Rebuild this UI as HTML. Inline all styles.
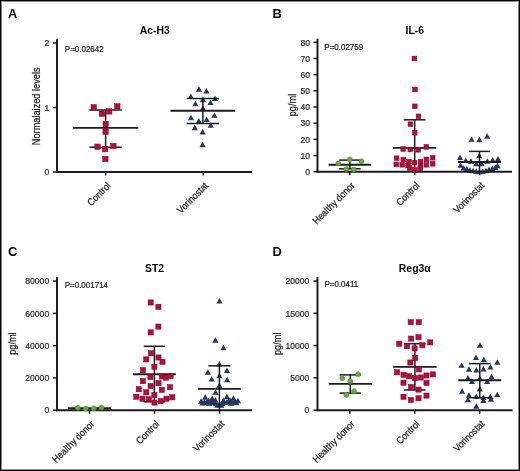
<!DOCTYPE html>
<html><head><meta charset="utf-8"><style>
html,body{margin:0;padding:0;background:#fff;}
body{width:520px;height:471px;overflow:hidden;position:relative;}
.frame{position:absolute;left:0;top:0;width:518px;height:469px;border:1px solid #000;box-shadow:inset 0 0 0 1px #8a8a8a;}
svg{position:absolute;left:0;top:0;font-family:"Liberation Sans", sans-serif;filter:blur(0.3px);}
</style></head><body>
<div class="frame"></div>
<svg width="520" height="471" viewBox="0 0 520 471">
<path d="M199.00 86.25L202.10 91.75L195.90 91.75Z" fill="#24375f"/>
<path d="M206.40 88.05L209.50 93.55L203.30 93.55Z" fill="#24375f"/>
<path d="M190.80 93.45L193.90 98.95L187.70 98.95Z" fill="#24375f"/>
<path d="M202.90 96.45L206.00 101.95L199.80 101.95Z" fill="#24375f"/>
<path d="M215.00 95.45L218.10 100.95L211.90 100.95Z" fill="#24375f"/>
<path d="M195.40 100.75L198.50 106.25L192.30 106.25Z" fill="#24375f"/>
<path d="M210.50 99.55L213.60 105.05L207.40 105.05Z" fill="#24375f"/>
<path d="M202.90 105.35L206.00 110.85L199.80 110.85Z" fill="#24375f"/>
<path d="M214.40 112.15L217.50 117.65L211.30 117.65Z" fill="#24375f"/>
<path d="M191.00 114.65L194.10 120.15L187.90 120.15Z" fill="#24375f"/>
<path d="M198.80 118.05L201.90 123.55L195.70 123.55Z" fill="#24375f"/>
<path d="M206.60 116.55L209.70 122.05L203.50 122.05Z" fill="#24375f"/>
<path d="M194.80 124.65L197.90 130.15L191.70 130.15Z" fill="#24375f"/>
<path d="M210.80 122.15L213.90 127.65L207.70 127.65Z" fill="#24375f"/>
<path d="M202.60 129.05L205.70 134.55L199.50 134.55Z" fill="#24375f"/>
<path d="M202.60 141.85L205.70 147.35L199.50 147.35Z" fill="#24375f"/>
<path d="M471.60 136.25L474.70 141.75L468.50 141.75Z" fill="#24375f"/>
<path d="M479.40 136.85L482.50 142.35L476.30 142.35Z" fill="#24375f"/>
<path d="M487.10 133.35L490.20 138.85L484.00 138.85Z" fill="#24375f"/>
<path d="M479.30 152.85L482.40 158.35L476.20 158.35Z" fill="#24375f"/>
<path d="M460.00 154.45L463.10 159.95L456.90 159.95Z" fill="#24375f"/>
<path d="M498.00 156.05L501.10 161.55L494.90 161.55Z" fill="#24375f"/>
<path d="M465.80 157.55L468.90 163.05L462.70 163.05Z" fill="#24375f"/>
<path d="M471.00 158.15L474.10 163.65L467.90 163.65Z" fill="#24375f"/>
<path d="M487.40 158.35L490.50 163.85L484.30 163.85Z" fill="#24375f"/>
<path d="M492.70 157.05L495.80 162.55L489.60 162.55Z" fill="#24375f"/>
<path d="M476.30 160.75L479.40 166.25L473.20 166.25Z" fill="#24375f"/>
<path d="M481.60 160.75L484.70 166.25L478.50 166.25Z" fill="#24375f"/>
<path d="M460.50 162.35L463.60 167.85L457.40 167.85Z" fill="#24375f"/>
<path d="M497.50 162.85L500.60 168.35L494.40 168.35Z" fill="#24375f"/>
<path d="M463.60 165.05L466.70 170.55L460.50 170.55Z" fill="#24375f"/>
<path d="M466.80 166.05L469.90 171.55L463.70 171.55Z" fill="#24375f"/>
<path d="M470.00 167.15L473.10 172.65L466.90 172.65Z" fill="#24375f"/>
<path d="M473.20 167.65L476.30 173.15L470.10 173.15Z" fill="#24375f"/>
<path d="M476.30 168.25L479.40 173.75L473.20 173.75Z" fill="#24375f"/>
<path d="M479.50 168.65L482.60 174.15L476.40 174.15Z" fill="#24375f"/>
<path d="M482.70 168.25L485.80 173.75L479.60 173.75Z" fill="#24375f"/>
<path d="M485.90 167.65L489.00 173.15L482.80 173.15Z" fill="#24375f"/>
<path d="M489.00 166.55L492.10 172.05L485.90 172.05Z" fill="#24375f"/>
<path d="M492.20 165.55L495.30 171.05L489.10 171.05Z" fill="#24375f"/>
<path d="M495.40 164.45L498.50 169.95L492.30 169.95Z" fill="#24375f"/>
<path d="M219.50 298.05L222.60 303.55L216.40 303.55Z" fill="#24375f"/>
<path d="M215.40 337.35L218.50 342.85L212.30 342.85Z" fill="#24375f"/>
<path d="M223.40 344.75L226.50 350.25L220.30 350.25Z" fill="#24375f"/>
<path d="M219.40 361.05L222.50 366.55L216.30 366.55Z" fill="#24375f"/>
<path d="M207.90 369.15L211.00 374.65L204.80 374.65Z" fill="#24375f"/>
<path d="M227.00 367.45L230.10 372.95L223.90 372.95Z" fill="#24375f"/>
<path d="M219.40 372.65L222.50 378.15L216.30 378.15Z" fill="#24375f"/>
<path d="M211.70 376.05L214.80 381.55L208.60 381.55Z" fill="#24375f"/>
<path d="M227.20 376.65L230.30 382.15L224.10 382.15Z" fill="#24375f"/>
<path d="M219.40 382.45L222.50 387.95L216.30 387.95Z" fill="#24375f"/>
<path d="M215.60 389.35L218.70 394.85L212.50 394.85Z" fill="#24375f"/>
<path d="M205.20 394.25L208.30 399.75L202.10 399.75Z" fill="#24375f"/>
<path d="M212.20 395.55L215.30 401.05L209.10 401.05Z" fill="#24375f"/>
<path d="M215.40 396.95L218.50 402.45L212.30 402.45Z" fill="#24375f"/>
<path d="M226.90 393.75L230.00 399.25L223.80 399.25Z" fill="#24375f"/>
<path d="M233.40 395.15L236.50 400.65L230.30 400.65Z" fill="#24375f"/>
<path d="M238.00 397.85L241.10 403.35L234.90 403.35Z" fill="#24375f"/>
<path d="M201.10 398.35L204.20 403.85L198.00 403.85Z" fill="#24375f"/>
<path d="M223.20 397.45L226.30 402.95L220.10 402.95Z" fill="#24375f"/>
<path d="M208.50 397.75L211.60 403.25L205.40 403.25Z" fill="#24375f"/>
<path d="M204.50 398.75L207.60 404.25L201.40 404.25Z" fill="#24375f"/>
<path d="M230.00 397.25L233.10 402.75L226.90 402.75Z" fill="#24375f"/>
<path d="M235.00 398.75L238.10 404.25L231.90 404.25Z" fill="#24375f"/>
<path d="M212.00 399.25L215.10 404.75L208.90 404.75Z" fill="#24375f"/>
<path d="M227.00 399.25L230.10 404.75L223.90 404.75Z" fill="#24375f"/>
<path d="M216.00 400.75L219.10 406.25L212.90 406.25Z" fill="#24375f"/>
<path d="M222.50 400.75L225.60 406.25L219.40 406.25Z" fill="#24375f"/>
<path d="M209.00 400.25L212.10 405.75L205.90 405.75Z" fill="#24375f"/>
<path d="M231.00 400.25L234.10 405.75L227.90 405.75Z" fill="#24375f"/>
<path d="M219.20 401.45L222.30 406.95L216.10 406.95Z" fill="#24375f"/>
<path d="M217.30 402.25L220.40 407.75L214.20 407.75Z" fill="#24375f"/>
<path d="M221.20 402.25L224.30 407.75L218.10 407.75Z" fill="#24375f"/>
<path d="M206.50 399.55L209.60 405.05L203.40 405.05Z" fill="#24375f"/>
<path d="M210.50 398.55L213.60 404.05L207.40 404.05Z" fill="#24375f"/>
<path d="M214.00 399.85L217.10 405.35L210.90 405.35Z" fill="#24375f"/>
<path d="M224.50 399.05L227.60 404.55L221.40 404.55Z" fill="#24375f"/>
<path d="M228.50 398.25L231.60 403.75L225.40 403.75Z" fill="#24375f"/>
<path d="M233.00 399.55L236.10 405.05L229.90 405.05Z" fill="#24375f"/>
<path d="M236.50 399.85L239.60 405.35L233.40 405.35Z" fill="#24375f"/>
<path d="M202.50 400.05L205.60 405.55L199.40 405.55Z" fill="#24375f"/>
<path d="M480.00 342.35L483.10 347.85L476.90 347.85Z" fill="#24375f"/>
<path d="M476.00 354.55L479.10 360.05L472.90 360.05Z" fill="#24375f"/>
<path d="M483.80 356.75L486.90 362.25L480.70 362.25Z" fill="#24375f"/>
<path d="M497.30 359.15L500.40 364.65L494.20 364.65Z" fill="#24375f"/>
<path d="M461.60 362.25L464.70 367.75L458.50 367.75Z" fill="#24375f"/>
<path d="M490.40 363.95L493.50 369.45L487.30 369.45Z" fill="#24375f"/>
<path d="M469.00 366.25L472.10 371.75L465.90 371.75Z" fill="#24375f"/>
<path d="M476.30 367.05L479.40 372.55L473.20 372.55Z" fill="#24375f"/>
<path d="M483.50 365.95L486.60 371.45L480.40 371.45Z" fill="#24375f"/>
<path d="M467.90 374.95L471.00 380.45L464.80 380.45Z" fill="#24375f"/>
<path d="M471.90 378.45L475.00 383.95L468.80 383.95Z" fill="#24375f"/>
<path d="M479.80 375.55L482.90 381.05L476.70 381.05Z" fill="#24375f"/>
<path d="M487.20 378.45L490.30 383.95L484.10 383.95Z" fill="#24375f"/>
<path d="M491.50 373.75L494.60 379.25L488.40 379.25Z" fill="#24375f"/>
<path d="M479.80 385.95L482.90 391.45L476.70 391.45Z" fill="#24375f"/>
<path d="M462.10 388.25L465.20 393.75L459.00 393.75Z" fill="#24375f"/>
<path d="M469.00 392.25L472.10 397.75L465.90 397.75Z" fill="#24375f"/>
<path d="M476.30 393.45L479.40 398.95L473.20 398.95Z" fill="#24375f"/>
<path d="M483.50 394.55L486.60 400.05L480.40 400.05Z" fill="#24375f"/>
<path d="M490.40 393.45L493.50 398.95L487.30 398.95Z" fill="#24375f"/>
<path d="M497.30 391.65L500.40 397.15L494.20 397.15Z" fill="#24375f"/>
<path d="M467.90 396.85L471.00 402.35L464.80 402.35Z" fill="#24375f"/>
<path d="M483.50 397.45L486.60 402.95L480.40 402.95Z" fill="#24375f"/>
<path d="M491.00 396.25L494.10 401.75L487.90 401.75Z" fill="#24375f"/>
<path d="M476.30 403.25L479.40 408.75L473.20 408.75Z" fill="#24375f"/>
<line x1="57.00" y1="39.20" x2="57.00" y2="173.00" stroke="#1c1c1c" stroke-width="2.0"/>
<line x1="56.20" y1="172.00" x2="252.00" y2="172.00" stroke="#1c1c1c" stroke-width="2.0"/>
<line x1="53.00" y1="172.00" x2="57.00" y2="172.00" stroke="#1c1c1c" stroke-width="1.5"/>
<text x="49.20" y="175.20" font-size="8.6" text-anchor="end" font-weight="normal" fill="#2a2a2a" stroke="#2a2a2a" stroke-width="0.22">0</text>
<line x1="53.00" y1="107.50" x2="57.00" y2="107.50" stroke="#1c1c1c" stroke-width="1.5"/>
<text x="49.20" y="110.70" font-size="8.6" text-anchor="end" font-weight="normal" fill="#2a2a2a" stroke="#2a2a2a" stroke-width="0.22">1</text>
<line x1="53.00" y1="43.00" x2="57.00" y2="43.00" stroke="#1c1c1c" stroke-width="1.5"/>
<text x="49.20" y="46.20" font-size="8.6" text-anchor="end" font-weight="normal" fill="#2a2a2a" stroke="#2a2a2a" stroke-width="0.22">2</text>
<line x1="105.75" y1="172.00" x2="105.75" y2="175.60" stroke="#1c1c1c" stroke-width="1.5"/>
<line x1="203.25" y1="172.00" x2="203.25" y2="175.60" stroke="#1c1c1c" stroke-width="1.5"/>
<text x="8.00" y="18.20" font-size="12.8" text-anchor="start" font-weight="bold" fill="#000">A</text>
<text x="154.75" y="33.60" font-size="10.4" text-anchor="middle" font-weight="bold" fill="#000">Ac-H3</text>
<text x="0.00" y="0.00" font-size="9.2" text-anchor="start" font-weight="normal" fill="#1a1a1a" stroke="#1a1a1a" stroke-width="0.22" transform="translate(64.80,51.60) scale(0.87,1)">P=0.02642</text>
<text x="0.00" y="0.00" font-size="10.4" text-anchor="middle" font-weight="normal" fill="#1a1a1a" stroke="#1a1a1a" stroke-width="0.22" transform="translate(39.9,106.3) rotate(-90) translate(0.00,0.00) scale(0.885,1)">Normalaized levels</text>
<text x="0.00" y="0.00" font-size="9.9" text-anchor="end" font-weight="normal" fill="#1a1a1a" stroke="#1a1a1a" stroke-width="0.22" transform="translate(111.25,186.40) rotate(-45) translate(0.00,0.00) scale(0.89,1)">Control</text>
<text x="0.00" y="0.00" font-size="9.9" text-anchor="end" font-weight="normal" fill="#1a1a1a" stroke="#1a1a1a" stroke-width="0.22" transform="translate(208.75,186.40) rotate(-45) translate(0.00,0.00) scale(0.89,1)">Vorinostat</text>
<line x1="105.60" y1="110.00" x2="105.60" y2="147.20" stroke="#1c1c1c" stroke-width="1.5"/>
<line x1="89.40" y1="110.00" x2="121.80" y2="110.00" stroke="#1c1c1c" stroke-width="1.5"/>
<line x1="89.40" y1="147.20" x2="121.80" y2="147.20" stroke="#1c1c1c" stroke-width="1.5"/>
<line x1="72.90" y1="127.90" x2="138.30" y2="127.90" stroke="#1c1c1c" stroke-width="1.9"/>
<line x1="202.90" y1="98.40" x2="202.90" y2="123.60" stroke="#1c1c1c" stroke-width="1.5"/>
<line x1="186.70" y1="98.40" x2="219.10" y2="98.40" stroke="#1c1c1c" stroke-width="1.5"/>
<line x1="186.70" y1="123.60" x2="219.10" y2="123.60" stroke="#1c1c1c" stroke-width="1.5"/>
<line x1="170.50" y1="110.70" x2="235.30" y2="110.70" stroke="#1c1c1c" stroke-width="1.9"/>
<line x1="317.50" y1="38.60" x2="317.50" y2="172.70" stroke="#1c1c1c" stroke-width="2.0"/>
<line x1="316.70" y1="171.70" x2="512.00" y2="171.70" stroke="#1c1c1c" stroke-width="2.0"/>
<line x1="313.50" y1="171.70" x2="317.50" y2="171.70" stroke="#1c1c1c" stroke-width="1.5"/>
<text x="310.00" y="174.90" font-size="8.6" text-anchor="end" font-weight="normal" fill="#2a2a2a" stroke="#2a2a2a" stroke-width="0.22">0</text>
<line x1="313.50" y1="155.52" x2="317.50" y2="155.52" stroke="#1c1c1c" stroke-width="1.5"/>
<text x="310.00" y="158.72" font-size="8.6" text-anchor="end" font-weight="normal" fill="#2a2a2a" stroke="#2a2a2a" stroke-width="0.22">10</text>
<line x1="313.50" y1="139.35" x2="317.50" y2="139.35" stroke="#1c1c1c" stroke-width="1.5"/>
<text x="310.00" y="142.55" font-size="8.6" text-anchor="end" font-weight="normal" fill="#2a2a2a" stroke="#2a2a2a" stroke-width="0.22">20</text>
<line x1="313.50" y1="123.17" x2="317.50" y2="123.17" stroke="#1c1c1c" stroke-width="1.5"/>
<text x="310.00" y="126.38" font-size="8.6" text-anchor="end" font-weight="normal" fill="#2a2a2a" stroke="#2a2a2a" stroke-width="0.22">30</text>
<line x1="313.50" y1="107.00" x2="317.50" y2="107.00" stroke="#1c1c1c" stroke-width="1.5"/>
<text x="310.00" y="110.20" font-size="8.6" text-anchor="end" font-weight="normal" fill="#2a2a2a" stroke="#2a2a2a" stroke-width="0.22">40</text>
<line x1="313.50" y1="90.83" x2="317.50" y2="90.83" stroke="#1c1c1c" stroke-width="1.5"/>
<text x="310.00" y="94.03" font-size="8.6" text-anchor="end" font-weight="normal" fill="#2a2a2a" stroke="#2a2a2a" stroke-width="0.22">50</text>
<line x1="313.50" y1="74.65" x2="317.50" y2="74.65" stroke="#1c1c1c" stroke-width="1.5"/>
<text x="310.00" y="77.85" font-size="8.6" text-anchor="end" font-weight="normal" fill="#2a2a2a" stroke="#2a2a2a" stroke-width="0.22">60</text>
<line x1="313.50" y1="58.48" x2="317.50" y2="58.48" stroke="#1c1c1c" stroke-width="1.5"/>
<text x="310.00" y="61.68" font-size="8.6" text-anchor="end" font-weight="normal" fill="#2a2a2a" stroke="#2a2a2a" stroke-width="0.22">70</text>
<line x1="313.50" y1="42.30" x2="317.50" y2="42.30" stroke="#1c1c1c" stroke-width="1.5"/>
<text x="310.00" y="45.50" font-size="8.6" text-anchor="end" font-weight="normal" fill="#2a2a2a" stroke="#2a2a2a" stroke-width="0.22">80</text>
<line x1="349.90" y1="171.70" x2="349.90" y2="175.30" stroke="#1c1c1c" stroke-width="1.5"/>
<line x1="414.75" y1="171.70" x2="414.75" y2="175.30" stroke="#1c1c1c" stroke-width="1.5"/>
<line x1="479.60" y1="171.70" x2="479.60" y2="175.30" stroke="#1c1c1c" stroke-width="1.5"/>
<text x="272.60" y="18.20" font-size="12.8" text-anchor="start" font-weight="bold" fill="#000">B</text>
<text x="414.75" y="33.70" font-size="10.4" text-anchor="middle" font-weight="bold" fill="#000">IL-6</text>
<text x="0.00" y="0.00" font-size="9.2" text-anchor="start" font-weight="normal" fill="#1a1a1a" stroke="#1a1a1a" stroke-width="0.22" transform="translate(324.30,49.70) scale(0.87,1)">P=0.02759</text>
<text x="0.00" y="0.00" font-size="10.4" text-anchor="middle" font-weight="normal" fill="#1a1a1a" stroke="#1a1a1a" stroke-width="0.22" transform="translate(295.9,105) rotate(-90) translate(0.00,0.00) scale(0.885,1)">pg/ml</text>
<text x="0.00" y="0.00" font-size="9.9" text-anchor="end" font-weight="normal" fill="#1a1a1a" stroke="#1a1a1a" stroke-width="0.22" transform="translate(355.40,186.10) rotate(-45) translate(0.00,0.00) scale(0.89,1)">Healthy donor</text>
<text x="0.00" y="0.00" font-size="9.9" text-anchor="end" font-weight="normal" fill="#1a1a1a" stroke="#1a1a1a" stroke-width="0.22" transform="translate(420.25,186.10) rotate(-45) translate(0.00,0.00) scale(0.89,1)">Control</text>
<text x="0.00" y="0.00" font-size="9.9" text-anchor="end" font-weight="normal" fill="#1a1a1a" stroke="#1a1a1a" stroke-width="0.22" transform="translate(485.10,186.10) rotate(-45) translate(0.00,0.00) scale(0.89,1)">Vorinostat</text>
<line x1="349.90" y1="160.10" x2="349.90" y2="168.80" stroke="#1c1c1c" stroke-width="1.5"/>
<line x1="339.20" y1="160.10" x2="360.60" y2="160.10" stroke="#1c1c1c" stroke-width="1.5"/>
<line x1="339.20" y1="168.80" x2="360.60" y2="168.80" stroke="#1c1c1c" stroke-width="1.5"/>
<line x1="328.50" y1="164.70" x2="371.30" y2="164.70" stroke="#1c1c1c" stroke-width="1.9"/>
<line x1="414.70" y1="119.80" x2="414.70" y2="171.70" stroke="#1c1c1c" stroke-width="1.5"/>
<line x1="404.00" y1="119.80" x2="425.40" y2="119.80" stroke="#1c1c1c" stroke-width="1.5"/>
<line x1="393.10" y1="147.90" x2="436.30" y2="147.90" stroke="#1c1c1c" stroke-width="1.9"/>
<line x1="479.50" y1="151.40" x2="479.50" y2="171.70" stroke="#1c1c1c" stroke-width="1.5"/>
<line x1="468.80" y1="151.40" x2="490.20" y2="151.40" stroke="#1c1c1c" stroke-width="1.5"/>
<line x1="458.00" y1="162.00" x2="501.00" y2="162.00" stroke="#1c1c1c" stroke-width="1.9"/>
<line x1="57.00" y1="277.20" x2="57.00" y2="411.20" stroke="#1c1c1c" stroke-width="2.0"/>
<line x1="56.20" y1="410.20" x2="252.00" y2="410.20" stroke="#1c1c1c" stroke-width="2.0"/>
<line x1="53.00" y1="410.20" x2="57.00" y2="410.20" stroke="#1c1c1c" stroke-width="1.5"/>
<text x="49.20" y="413.40" font-size="8.6" text-anchor="end" font-weight="normal" fill="#2a2a2a" stroke="#2a2a2a" stroke-width="0.22">0</text>
<line x1="53.00" y1="377.93" x2="57.00" y2="377.93" stroke="#1c1c1c" stroke-width="1.5"/>
<text x="49.20" y="381.12" font-size="8.6" text-anchor="end" font-weight="normal" fill="#2a2a2a" stroke="#2a2a2a" stroke-width="0.22">20000</text>
<line x1="53.00" y1="345.65" x2="57.00" y2="345.65" stroke="#1c1c1c" stroke-width="1.5"/>
<text x="49.20" y="348.85" font-size="8.6" text-anchor="end" font-weight="normal" fill="#2a2a2a" stroke="#2a2a2a" stroke-width="0.22">40000</text>
<line x1="53.00" y1="313.38" x2="57.00" y2="313.38" stroke="#1c1c1c" stroke-width="1.5"/>
<text x="49.20" y="316.57" font-size="8.6" text-anchor="end" font-weight="normal" fill="#2a2a2a" stroke="#2a2a2a" stroke-width="0.22">60000</text>
<line x1="53.00" y1="281.10" x2="57.00" y2="281.10" stroke="#1c1c1c" stroke-width="1.5"/>
<text x="49.20" y="284.30" font-size="8.6" text-anchor="end" font-weight="normal" fill="#2a2a2a" stroke="#2a2a2a" stroke-width="0.22">80000</text>
<line x1="89.50" y1="410.20" x2="89.50" y2="413.80" stroke="#1c1c1c" stroke-width="1.5"/>
<line x1="154.50" y1="410.20" x2="154.50" y2="413.80" stroke="#1c1c1c" stroke-width="1.5"/>
<line x1="219.50" y1="410.20" x2="219.50" y2="413.80" stroke="#1c1c1c" stroke-width="1.5"/>
<text x="8.00" y="255.80" font-size="12.8" text-anchor="start" font-weight="bold" fill="#000">C</text>
<text x="154.50" y="271.80" font-size="10.4" text-anchor="middle" font-weight="bold" fill="#000">ST2</text>
<text x="0.00" y="0.00" font-size="9.2" text-anchor="start" font-weight="normal" fill="#1a1a1a" stroke="#1a1a1a" stroke-width="0.22" transform="translate(64.70,287.60) scale(0.87,1)">P=0.001714</text>
<text x="0.00" y="0.00" font-size="10.4" text-anchor="middle" font-weight="normal" fill="#1a1a1a" stroke="#1a1a1a" stroke-width="0.22" transform="translate(15.6,343.6) rotate(-90) translate(0.00,0.00) scale(0.885,1)">pg/ml</text>
<text x="0.00" y="0.00" font-size="9.9" text-anchor="end" font-weight="normal" fill="#1a1a1a" stroke="#1a1a1a" stroke-width="0.22" transform="translate(95.00,424.60) rotate(-45) translate(0.00,0.00) scale(0.89,1)">Healthy donor</text>
<text x="0.00" y="0.00" font-size="9.9" text-anchor="end" font-weight="normal" fill="#1a1a1a" stroke="#1a1a1a" stroke-width="0.22" transform="translate(160.00,424.60) rotate(-45) translate(0.00,0.00) scale(0.89,1)">Control</text>
<text x="0.00" y="0.00" font-size="9.9" text-anchor="end" font-weight="normal" fill="#1a1a1a" stroke="#1a1a1a" stroke-width="0.22" transform="translate(225.00,424.60) rotate(-45) translate(0.00,0.00) scale(0.89,1)">Vorinostat</text>
<line x1="67.80" y1="408.20" x2="110.90" y2="408.20" stroke="#1c1c1c" stroke-width="2.0"/>
<line x1="154.40" y1="346.30" x2="154.40" y2="401.80" stroke="#1c1c1c" stroke-width="1.5"/>
<line x1="143.70" y1="346.30" x2="165.10" y2="346.30" stroke="#1c1c1c" stroke-width="1.5"/>
<line x1="143.70" y1="401.80" x2="165.10" y2="401.80" stroke="#1c1c1c" stroke-width="1.5"/>
<line x1="133.00" y1="374.20" x2="175.80" y2="374.20" stroke="#1c1c1c" stroke-width="1.9"/>
<line x1="219.40" y1="365.80" x2="219.40" y2="410.20" stroke="#1c1c1c" stroke-width="1.5"/>
<line x1="208.40" y1="365.80" x2="230.40" y2="365.80" stroke="#1c1c1c" stroke-width="1.5"/>
<line x1="198.00" y1="388.90" x2="240.80" y2="388.90" stroke="#1c1c1c" stroke-width="1.9"/>
<line x1="317.50" y1="277.20" x2="317.50" y2="411.20" stroke="#1c1c1c" stroke-width="2.0"/>
<line x1="316.70" y1="410.20" x2="512.50" y2="410.20" stroke="#1c1c1c" stroke-width="2.0"/>
<line x1="313.50" y1="410.20" x2="317.50" y2="410.20" stroke="#1c1c1c" stroke-width="1.5"/>
<text x="309.40" y="413.40" font-size="8.6" text-anchor="end" font-weight="normal" fill="#2a2a2a" stroke="#2a2a2a" stroke-width="0.22">0</text>
<line x1="313.50" y1="377.90" x2="317.50" y2="377.90" stroke="#1c1c1c" stroke-width="1.5"/>
<text x="309.40" y="381.10" font-size="8.6" text-anchor="end" font-weight="normal" fill="#2a2a2a" stroke="#2a2a2a" stroke-width="0.22">5000</text>
<line x1="313.50" y1="345.60" x2="317.50" y2="345.60" stroke="#1c1c1c" stroke-width="1.5"/>
<text x="309.40" y="348.80" font-size="8.6" text-anchor="end" font-weight="normal" fill="#2a2a2a" stroke="#2a2a2a" stroke-width="0.22">10000</text>
<line x1="313.50" y1="313.30" x2="317.50" y2="313.30" stroke="#1c1c1c" stroke-width="1.5"/>
<text x="309.40" y="316.50" font-size="8.6" text-anchor="end" font-weight="normal" fill="#2a2a2a" stroke="#2a2a2a" stroke-width="0.22">15000</text>
<line x1="313.50" y1="281.00" x2="317.50" y2="281.00" stroke="#1c1c1c" stroke-width="1.5"/>
<text x="309.40" y="284.20" font-size="8.6" text-anchor="end" font-weight="normal" fill="#2a2a2a" stroke="#2a2a2a" stroke-width="0.22">20000</text>
<line x1="349.90" y1="410.20" x2="349.90" y2="413.80" stroke="#1c1c1c" stroke-width="1.5"/>
<line x1="414.75" y1="410.20" x2="414.75" y2="413.80" stroke="#1c1c1c" stroke-width="1.5"/>
<line x1="479.60" y1="410.20" x2="479.60" y2="413.80" stroke="#1c1c1c" stroke-width="1.5"/>
<text x="272.60" y="255.80" font-size="12.8" text-anchor="start" font-weight="bold" fill="#000">D</text>
<text x="414.75" y="271.80" font-size="10.4" text-anchor="middle" font-weight="bold" fill="#000">Reg3α</text>
<text x="0.00" y="0.00" font-size="9.2" text-anchor="start" font-weight="normal" fill="#1a1a1a" stroke="#1a1a1a" stroke-width="0.22" transform="translate(324.40,287.40) scale(0.87,1)">P=0.0411</text>
<text x="0.00" y="0.00" font-size="10.4" text-anchor="middle" font-weight="normal" fill="#1a1a1a" stroke="#1a1a1a" stroke-width="0.22" transform="translate(280.8,343.8) rotate(-90) translate(0.00,0.00) scale(0.885,1)">pg/ml</text>
<text x="0.00" y="0.00" font-size="9.9" text-anchor="end" font-weight="normal" fill="#1a1a1a" stroke="#1a1a1a" stroke-width="0.22" transform="translate(355.40,424.60) rotate(-45) translate(0.00,0.00) scale(0.89,1)">Healthy donor</text>
<text x="0.00" y="0.00" font-size="9.9" text-anchor="end" font-weight="normal" fill="#1a1a1a" stroke="#1a1a1a" stroke-width="0.22" transform="translate(420.25,424.60) rotate(-45) translate(0.00,0.00) scale(0.89,1)">Control</text>
<text x="0.00" y="0.00" font-size="9.9" text-anchor="end" font-weight="normal" fill="#1a1a1a" stroke="#1a1a1a" stroke-width="0.22" transform="translate(485.10,424.60) rotate(-45) translate(0.00,0.00) scale(0.89,1)">Vorinostat</text>
<line x1="350.30" y1="374.90" x2="350.30" y2="393.10" stroke="#1c1c1c" stroke-width="1.5"/>
<line x1="339.60" y1="374.90" x2="361.00" y2="374.90" stroke="#1c1c1c" stroke-width="1.5"/>
<line x1="339.60" y1="393.10" x2="361.00" y2="393.10" stroke="#1c1c1c" stroke-width="1.5"/>
<line x1="328.70" y1="383.90" x2="371.90" y2="383.90" stroke="#1c1c1c" stroke-width="1.9"/>
<line x1="414.90" y1="343.70" x2="414.90" y2="390.00" stroke="#1c1c1c" stroke-width="1.5"/>
<line x1="404.20" y1="343.70" x2="425.60" y2="343.70" stroke="#1c1c1c" stroke-width="1.5"/>
<line x1="404.20" y1="390.00" x2="425.60" y2="390.00" stroke="#1c1c1c" stroke-width="1.5"/>
<line x1="393.20" y1="366.90" x2="436.60" y2="366.90" stroke="#1c1c1c" stroke-width="1.9"/>
<line x1="479.80" y1="363.60" x2="479.80" y2="397.70" stroke="#1c1c1c" stroke-width="1.5"/>
<line x1="468.90" y1="363.60" x2="490.70" y2="363.60" stroke="#1c1c1c" stroke-width="1.5"/>
<line x1="468.90" y1="397.70" x2="490.70" y2="397.70" stroke="#1c1c1c" stroke-width="1.5"/>
<line x1="458.30" y1="380.20" x2="501.30" y2="380.20" stroke="#1c1c1c" stroke-width="1.9"/>
<rect x="91.00" y="104.60" width="5.4" height="5.4" fill="#b80c3f" stroke="#760527" stroke-width="0.5"/>
<rect x="114.60" y="103.70" width="5.4" height="5.4" fill="#b80c3f" stroke="#760527" stroke-width="0.5"/>
<rect x="99.30" y="111.00" width="5.4" height="5.4" fill="#b80c3f" stroke="#760527" stroke-width="0.5"/>
<rect x="106.50" y="108.70" width="5.4" height="5.4" fill="#b80c3f" stroke="#760527" stroke-width="0.5"/>
<rect x="103.00" y="121.30" width="5.4" height="5.4" fill="#b80c3f" stroke="#760527" stroke-width="0.5"/>
<rect x="102.90" y="129.00" width="5.4" height="5.4" fill="#b80c3f" stroke="#760527" stroke-width="0.5"/>
<rect x="94.80" y="144.00" width="5.4" height="5.4" fill="#b80c3f" stroke="#760527" stroke-width="0.5"/>
<rect x="102.50" y="146.50" width="5.4" height="5.4" fill="#b80c3f" stroke="#760527" stroke-width="0.5"/>
<rect x="110.70" y="143.40" width="5.4" height="5.4" fill="#b80c3f" stroke="#760527" stroke-width="0.5"/>
<rect x="102.70" y="156.30" width="5.4" height="5.4" fill="#b80c3f" stroke="#760527" stroke-width="0.5"/>
<circle cx="349.80" cy="159.40" r="2.5" fill="#66ac3d" stroke="#4a8a2c" stroke-width="0.5"/>
<circle cx="361.50" cy="161.20" r="2.5" fill="#66ac3d" stroke="#4a8a2c" stroke-width="0.5"/>
<circle cx="338.30" cy="163.30" r="2.5" fill="#66ac3d" stroke="#4a8a2c" stroke-width="0.5"/>
<circle cx="346.30" cy="169.00" r="2.5" fill="#66ac3d" stroke="#4a8a2c" stroke-width="0.5"/>
<circle cx="353.70" cy="169.50" r="2.5" fill="#66ac3d" stroke="#4a8a2c" stroke-width="0.5"/>
<rect x="412.05" y="56.15" width="4.7" height="4.7" fill="#b80c3f" stroke="#760527" stroke-width="0.5"/>
<rect x="412.65" y="87.05" width="4.7" height="4.7" fill="#b80c3f" stroke="#760527" stroke-width="0.5"/>
<rect x="412.45" y="103.95" width="4.7" height="4.7" fill="#b80c3f" stroke="#760527" stroke-width="0.5"/>
<rect x="416.15" y="113.95" width="4.7" height="4.7" fill="#b80c3f" stroke="#760527" stroke-width="0.5"/>
<rect x="408.05" y="121.85" width="4.7" height="4.7" fill="#b80c3f" stroke="#760527" stroke-width="0.5"/>
<rect x="412.35" y="130.45" width="4.7" height="4.7" fill="#b80c3f" stroke="#760527" stroke-width="0.5"/>
<rect x="400.85" y="146.65" width="4.7" height="4.7" fill="#b80c3f" stroke="#760527" stroke-width="0.5"/>
<rect x="407.95" y="147.15" width="4.7" height="4.7" fill="#b80c3f" stroke="#760527" stroke-width="0.5"/>
<rect x="415.85" y="147.45" width="4.7" height="4.7" fill="#b80c3f" stroke="#760527" stroke-width="0.5"/>
<rect x="423.95" y="144.55" width="4.7" height="4.7" fill="#b80c3f" stroke="#760527" stroke-width="0.5"/>
<rect x="394.25" y="155.85" width="4.7" height="4.7" fill="#b80c3f" stroke="#760527" stroke-width="0.5"/>
<rect x="400.95" y="157.25" width="4.7" height="4.7" fill="#b80c3f" stroke="#760527" stroke-width="0.5"/>
<rect x="406.55" y="159.25" width="4.7" height="4.7" fill="#b80c3f" stroke="#760527" stroke-width="0.5"/>
<rect x="412.25" y="160.25" width="4.7" height="4.7" fill="#b80c3f" stroke="#760527" stroke-width="0.5"/>
<rect x="418.25" y="159.25" width="4.7" height="4.7" fill="#b80c3f" stroke="#760527" stroke-width="0.5"/>
<rect x="424.05" y="157.05" width="4.7" height="4.7" fill="#b80c3f" stroke="#760527" stroke-width="0.5"/>
<rect x="430.35" y="155.45" width="4.7" height="4.7" fill="#b80c3f" stroke="#760527" stroke-width="0.5"/>
<rect x="393.95" y="162.05" width="4.7" height="4.7" fill="#b80c3f" stroke="#760527" stroke-width="0.5"/>
<rect x="399.85" y="162.45" width="4.7" height="4.7" fill="#b80c3f" stroke="#760527" stroke-width="0.5"/>
<rect x="405.65" y="163.25" width="4.7" height="4.7" fill="#b80c3f" stroke="#760527" stroke-width="0.5"/>
<rect x="418.25" y="163.25" width="4.7" height="4.7" fill="#b80c3f" stroke="#760527" stroke-width="0.5"/>
<rect x="424.05" y="162.45" width="4.7" height="4.7" fill="#b80c3f" stroke="#760527" stroke-width="0.5"/>
<rect x="430.35" y="161.45" width="4.7" height="4.7" fill="#b80c3f" stroke="#760527" stroke-width="0.5"/>
<rect x="407.35" y="165.65" width="4.7" height="4.7" fill="#b80c3f" stroke="#760527" stroke-width="0.5"/>
<rect x="412.55" y="167.65" width="4.7" height="4.7" fill="#b80c3f" stroke="#760527" stroke-width="0.5"/>
<rect x="418.05" y="165.95" width="4.7" height="4.7" fill="#b80c3f" stroke="#760527" stroke-width="0.5"/>
<circle cx="77.90" cy="407.80" r="2.5" fill="#66ac3d" stroke="#4a8a2c" stroke-width="0.5"/>
<circle cx="85.70" cy="408.50" r="2.5" fill="#66ac3d" stroke="#4a8a2c" stroke-width="0.5"/>
<circle cx="93.80" cy="408.20" r="2.5" fill="#66ac3d" stroke="#4a8a2c" stroke-width="0.5"/>
<circle cx="101.40" cy="407.50" r="2.5" fill="#66ac3d" stroke="#4a8a2c" stroke-width="0.5"/>
<rect x="148.10" y="299.90" width="5.2" height="5.2" fill="#b80c3f" stroke="#760527" stroke-width="0.5"/>
<rect x="155.80" y="304.20" width="5.2" height="5.2" fill="#b80c3f" stroke="#760527" stroke-width="0.5"/>
<rect x="155.80" y="324.00" width="5.2" height="5.2" fill="#b80c3f" stroke="#760527" stroke-width="0.5"/>
<rect x="148.10" y="329.80" width="5.2" height="5.2" fill="#b80c3f" stroke="#760527" stroke-width="0.5"/>
<rect x="148.40" y="350.70" width="5.2" height="5.2" fill="#b80c3f" stroke="#760527" stroke-width="0.5"/>
<rect x="143.70" y="356.80" width="5.2" height="5.2" fill="#b80c3f" stroke="#760527" stroke-width="0.5"/>
<rect x="155.90" y="354.90" width="5.2" height="5.2" fill="#b80c3f" stroke="#760527" stroke-width="0.5"/>
<rect x="159.90" y="359.30" width="5.2" height="5.2" fill="#b80c3f" stroke="#760527" stroke-width="0.5"/>
<rect x="151.80" y="364.20" width="5.2" height="5.2" fill="#b80c3f" stroke="#760527" stroke-width="0.5"/>
<rect x="140.30" y="367.60" width="5.2" height="5.2" fill="#b80c3f" stroke="#760527" stroke-width="0.5"/>
<rect x="147.80" y="374.30" width="5.2" height="5.2" fill="#b80c3f" stroke="#760527" stroke-width="0.5"/>
<rect x="159.30" y="373.90" width="5.2" height="5.2" fill="#b80c3f" stroke="#760527" stroke-width="0.5"/>
<rect x="163.40" y="375.10" width="5.2" height="5.2" fill="#b80c3f" stroke="#760527" stroke-width="0.5"/>
<rect x="168.00" y="373.40" width="5.2" height="5.2" fill="#b80c3f" stroke="#760527" stroke-width="0.5"/>
<rect x="140.30" y="378.60" width="5.2" height="5.2" fill="#b80c3f" stroke="#760527" stroke-width="0.5"/>
<rect x="155.90" y="380.60" width="5.2" height="5.2" fill="#b80c3f" stroke="#760527" stroke-width="0.5"/>
<rect x="148.00" y="383.40" width="5.2" height="5.2" fill="#b80c3f" stroke="#760527" stroke-width="0.5"/>
<rect x="167.40" y="384.60" width="5.2" height="5.2" fill="#b80c3f" stroke="#760527" stroke-width="0.5"/>
<rect x="136.20" y="386.60" width="5.2" height="5.2" fill="#b80c3f" stroke="#760527" stroke-width="0.5"/>
<rect x="159.30" y="387.20" width="5.2" height="5.2" fill="#b80c3f" stroke="#760527" stroke-width="0.5"/>
<rect x="143.70" y="389.70" width="5.2" height="5.2" fill="#b80c3f" stroke="#760527" stroke-width="0.5"/>
<rect x="151.80" y="392.40" width="5.2" height="5.2" fill="#b80c3f" stroke="#760527" stroke-width="0.5"/>
<rect x="133.70" y="394.20" width="5.2" height="5.2" fill="#b80c3f" stroke="#760527" stroke-width="0.5"/>
<rect x="139.90" y="396.10" width="5.2" height="5.2" fill="#b80c3f" stroke="#760527" stroke-width="0.5"/>
<rect x="146.20" y="396.60" width="5.2" height="5.2" fill="#b80c3f" stroke="#760527" stroke-width="0.5"/>
<rect x="151.90" y="400.00" width="5.2" height="5.2" fill="#b80c3f" stroke="#760527" stroke-width="0.5"/>
<rect x="158.20" y="398.50" width="5.2" height="5.2" fill="#b80c3f" stroke="#760527" stroke-width="0.5"/>
<rect x="163.90" y="396.10" width="5.2" height="5.2" fill="#b80c3f" stroke="#760527" stroke-width="0.5"/>
<rect x="169.70" y="394.70" width="5.2" height="5.2" fill="#b80c3f" stroke="#760527" stroke-width="0.5"/>
<circle cx="358.20" cy="374.30" r="2.5" fill="#66ac3d" stroke="#4a8a2c" stroke-width="0.5"/>
<circle cx="342.30" cy="378.30" r="2.5" fill="#66ac3d" stroke="#4a8a2c" stroke-width="0.5"/>
<circle cx="350.20" cy="381.30" r="2.5" fill="#66ac3d" stroke="#4a8a2c" stroke-width="0.5"/>
<circle cx="354.00" cy="391.20" r="2.5" fill="#66ac3d" stroke="#4a8a2c" stroke-width="0.5"/>
<circle cx="346.30" cy="395.00" r="2.5" fill="#66ac3d" stroke="#4a8a2c" stroke-width="0.5"/>
<rect x="408.10" y="319.60" width="5.2" height="5.2" fill="#b80c3f" stroke="#760527" stroke-width="0.5"/>
<rect x="416.10" y="319.60" width="5.2" height="5.2" fill="#b80c3f" stroke="#760527" stroke-width="0.5"/>
<rect x="408.60" y="336.00" width="5.2" height="5.2" fill="#b80c3f" stroke="#760527" stroke-width="0.5"/>
<rect x="415.90" y="334.70" width="5.2" height="5.2" fill="#b80c3f" stroke="#760527" stroke-width="0.5"/>
<rect x="396.70" y="341.10" width="5.2" height="5.2" fill="#b80c3f" stroke="#760527" stroke-width="0.5"/>
<rect x="427.70" y="339.80" width="5.2" height="5.2" fill="#b80c3f" stroke="#760527" stroke-width="0.5"/>
<rect x="404.40" y="343.70" width="5.2" height="5.2" fill="#b80c3f" stroke="#760527" stroke-width="0.5"/>
<rect x="419.80" y="342.70" width="5.2" height="5.2" fill="#b80c3f" stroke="#760527" stroke-width="0.5"/>
<rect x="412.00" y="345.80" width="5.2" height="5.2" fill="#b80c3f" stroke="#760527" stroke-width="0.5"/>
<rect x="412.60" y="355.30" width="5.2" height="5.2" fill="#b80c3f" stroke="#760527" stroke-width="0.5"/>
<rect x="407.80" y="359.90" width="5.2" height="5.2" fill="#b80c3f" stroke="#760527" stroke-width="0.5"/>
<rect x="416.40" y="366.80" width="5.2" height="5.2" fill="#b80c3f" stroke="#760527" stroke-width="0.5"/>
<rect x="394.50" y="369.70" width="5.2" height="5.2" fill="#b80c3f" stroke="#760527" stroke-width="0.5"/>
<rect x="400.90" y="372.20" width="5.2" height="5.2" fill="#b80c3f" stroke="#760527" stroke-width="0.5"/>
<rect x="406.60" y="373.70" width="5.2" height="5.2" fill="#b80c3f" stroke="#760527" stroke-width="0.5"/>
<rect x="412.40" y="375.50" width="5.2" height="5.2" fill="#b80c3f" stroke="#760527" stroke-width="0.5"/>
<rect x="418.20" y="374.90" width="5.2" height="5.2" fill="#b80c3f" stroke="#760527" stroke-width="0.5"/>
<rect x="423.90" y="372.90" width="5.2" height="5.2" fill="#b80c3f" stroke="#760527" stroke-width="0.5"/>
<rect x="430.30" y="371.80" width="5.2" height="5.2" fill="#b80c3f" stroke="#760527" stroke-width="0.5"/>
<rect x="400.90" y="380.10" width="5.2" height="5.2" fill="#b80c3f" stroke="#760527" stroke-width="0.5"/>
<rect x="423.90" y="380.30" width="5.2" height="5.2" fill="#b80c3f" stroke="#760527" stroke-width="0.5"/>
<rect x="408.40" y="384.50" width="5.2" height="5.2" fill="#b80c3f" stroke="#760527" stroke-width="0.5"/>
<rect x="415.90" y="387.00" width="5.2" height="5.2" fill="#b80c3f" stroke="#760527" stroke-width="0.5"/>
<rect x="400.90" y="394.20" width="5.2" height="5.2" fill="#b80c3f" stroke="#760527" stroke-width="0.5"/>
<rect x="408.40" y="397.40" width="5.2" height="5.2" fill="#b80c3f" stroke="#760527" stroke-width="0.5"/>
<rect x="415.90" y="395.70" width="5.2" height="5.2" fill="#b80c3f" stroke="#760527" stroke-width="0.5"/>
<rect x="423.90" y="393.00" width="5.2" height="5.2" fill="#b80c3f" stroke="#760527" stroke-width="0.5"/>
</svg>
</body></html>
